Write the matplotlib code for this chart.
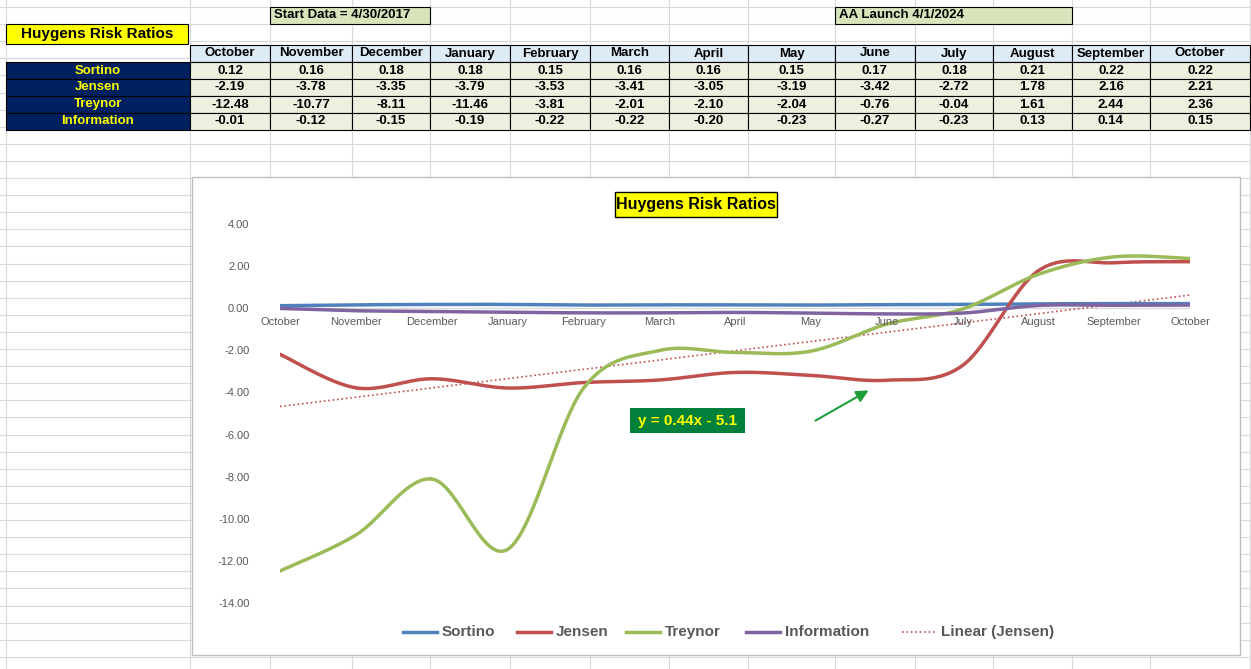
import numpy as np
import matplotlib
matplotlib.use("Agg")
import matplotlib.pyplot as plt
from matplotlib.patches import Rectangle, FancyArrowPatch

plt.rcParams['font.family'] = ['Liberation Sans', 'DejaVu Sans']

months = ["October", "November", "December", "January", "February", "March", "April",
          "May", "June", "July", "August", "September", "October"]
sortino = [0.12, 0.16, 0.18, 0.18, 0.15, 0.16, 0.16, 0.15, 0.17, 0.18, 0.21, 0.22, 0.22]
jensen = [-2.19, -3.78, -3.35, -3.79, -3.53, -3.41, -3.05, -3.19, -3.42, -2.72, 1.78, 2.16, 2.21]
treynor = [-12.48, -10.77, -8.11, -11.46, -3.81, -2.01, -2.10, -2.04, -0.76, -0.04, 1.61, 2.44, 2.36]
information = [-0.01, -0.12, -0.15, -0.19, -0.22, -0.22, -0.20, -0.23, -0.27, -0.23, 0.13, 0.14, 0.15]
row_names = ["Sortino", "Jensen", "Treynor", "Information"]
series = [sortino, jensen, treynor, information]
colors = ["#4F81BD", "#C0504D", "#9BBB59", "#8064A2"]
yticks = [4, 2, 0, -2, -4, -6, -8, -10, -12, -14]

W, H = 1251, 669
fig = plt.figure(figsize=(12.51, 6.69), dpi=100)
bg = fig.add_axes([0, 0, 1, 1])
bg.set_xlim(0, W); bg.set_ylim(H, 0); bg.axis('off')

colx = [190, 270, 352, 430, 510, 590, 669, 748, 835, 915, 993, 1072, 1150, 1250]
# spreadsheet grid
for x in [6] + colx:
    bg.plot([x, x], [0, H], color="#D9D9D9", lw=0.8, zorder=0)
for y in np.arange(7, H, 17.1):
    bg.plot([0, W], [y, y], color="#D9D9D9", lw=0.8, zorder=0)

rowy = [45, 62, 79, 96, 113, 130]
fs = 9.5
# header
for i, m in enumerate(months):
    bg.add_patch(Rectangle((colx[i], rowy[0]), colx[i+1]-colx[i], 17, fc="#DDEBF7", ec="black", lw=0.8, zorder=2))
    bg.text((colx[i]+colx[i+1])/2, rowy[0]+8.5, m, ha='center', va='center', fontsize=fs, fontweight='bold', zorder=3)
for r, (name, vals) in enumerate(zip(row_names, series)):
    y0 = rowy[r+1]
    bg.add_patch(Rectangle((6, y0), 184, 17, fc="#002060", ec="black", lw=0.8, zorder=2))
    bg.text(98, y0+8.5, name, ha='center', va='center', fontsize=fs, fontweight='bold', color="#FFFF00", zorder=3)
    for i, v in enumerate(vals):
        bg.add_patch(Rectangle((colx[i], y0), colx[i+1]-colx[i], 17, fc="#EBF1DE", ec="black", lw=0.8, zorder=2))
        bg.text((colx[i]+colx[i+1])/2, y0+8.5, f"{v:.2f}", ha='center', va='center', fontsize=fs, fontweight='bold', zorder=3)

bg.add_patch(Rectangle((6, 24), 182, 20, fc="#FFFF00", ec="black", lw=0.8, zorder=2))
bg.text(97, 34, "Huygens Risk Ratios", ha='center', va='center', fontsize=11, fontweight='bold', zorder=3)
bg.add_patch(Rectangle((270, 7), 160, 17, fc="#D8E4BC", ec="black", lw=0.8, zorder=2))
bg.text(274, 15.5, "Start Data = 4/30/2017", ha='left', va='center', fontsize=fs, fontweight='bold', zorder=3)
bg.add_patch(Rectangle((835, 7), 237, 17, fc="#D8E4BC", ec="black", lw=0.8, zorder=2))
bg.text(839, 15.5, "AA Launch 4/1/2024", ha='left', va='center', fontsize=fs, fontweight='bold', zorder=3)

# chart area
bg.add_patch(Rectangle((192, 177), 1048, 478, fc="white", ec="#BFBFBF", lw=1, zorder=4))
bg.add_patch(Rectangle((615, 192), 162, 25, fc="#FFFF00", ec="black", lw=1, zorder=5))
bg.text(696, 204.5, "Huygens Risk Ratios", ha='center', va='center', fontsize=11.5, fontweight='bold', zorder=6)
bg.add_patch(Rectangle((630, 408), 115, 25, fc="#00803A", ec="none", zorder=5))
bg.text(687.5, 420.5, "y = 0.44x - 5.1", ha='center', va='center', fontsize=11, fontweight='bold', color="#FFFF00", zorder=6)
bg.add_patch(FancyArrowPatch((813, 422), (871, 389), arrowstyle='-|>', mutation_scale=18, color="#1E9E3A", lw=1.5, zorder=6))

# legend
legend_items = row_names + ["Linear (Jensen)"]
lx = [403, 517, 626, 746, 902]
for k, (x, name) in enumerate(zip(lx, legend_items)):
    if k < 4:
        bg.plot([x, x+34], [632, 632], color=colors[k], lw=2.5, zorder=6)
    else:
        bg.plot([x, x+34], [632, 632], color="#C0504D", lw=1.2, ls=':', zorder=6)
    bg.text(x+39, 632, name, ha='left', va='center', fontsize=11, fontweight='bold', color="#595959", zorder=6)

ax = fig.add_axes([280/W, 1-603/H, 910/W, 379/H], zorder=5)
ax.patch.set_alpha(0)
ax.set_xlim(0, 12); ax.set_ylim(-14, 4)
for s in ax.spines.values():
    s.set_visible(False)
ax.set_xticks([])
ax.set_yticks(yticks)
ax.set_yticklabels([f"{v:.2f}" for v in yticks], fontsize=8, color="#595959")
ax.tick_params(axis='y', length=0, pad=22)
ax.axhline(0, color="#D9D9D9", lw=1, zorder=1)

def catmull(x, y, n=30):
    x = np.asarray(x, float); y = np.asarray(y, float)
    P = np.column_stack([x, y])
    P = np.vstack([P[0], P, P[-1]])
    out = []
    t = np.linspace(0, 1, n)[:, None]
    for i in range(1, len(P)-2):
        p0, p1, p2, p3 = P[i-1], P[i], P[i+1], P[i+2]
        seg = 0.5*((2*p1) + (-p0+p2)*t + (2*p0-5*p1+4*p2-p3)*t**2 + (-p0+3*p1-3*p2+p3)*t**3)
        out.append(seg)
    out = np.vstack(out)
    return out[:, 0], out[:, 1]

xi = np.arange(len(months))
for vals, c in zip(series, colors):
    sx, sy = catmull(xi, vals)
    ax.plot(sx, sy, color=c, lw=2.5, zorder=3)
coef = np.polyfit(xi + 1, jensen, 1)
ax.plot(xi, np.polyval(coef, xi + 1), color="#C0504D", lw=1.2, ls=':', zorder=2)
for i, m in enumerate(months):
    ax.text(i, -0.4, m, ha='center', va='top', fontsize=8, color="#595959")

fig.savefig("out.png", dpi=100)
